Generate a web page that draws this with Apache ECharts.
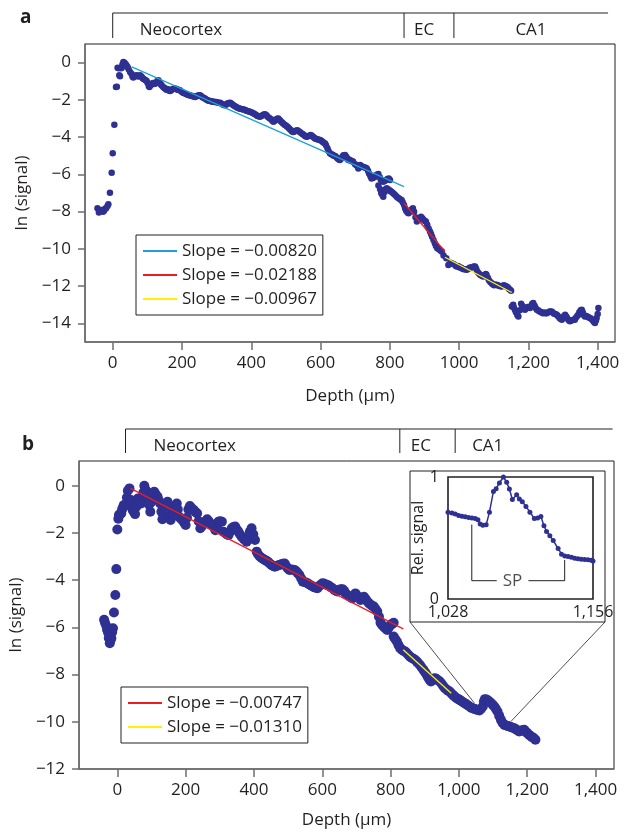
<!DOCTYPE html>
<html><head><meta charset="utf-8">
<script src="https://cdn.jsdelivr.net/npm/echarts@6/dist/echarts.min.js"></script>
<style>html,body{margin:0;padding:0;background:#fff}#c{width:629px;height:832px}</style>
</head><body><div id="c"></div><script>
// ---------- Panel a: depth (µm) vs ln(signal) ----------
const pointsA = [
[-44,-7.82],[-40,-8.05],[-36,-7.95],[-32,-7.91],[-28,-8.0],[-25,-7.95],[-22,-7.85],[-19,-7.82],[-15,-7.7],[-12.6,-7.61],
[-8,-6.98],[-3,-5.91],[0,-4.87],[4.7,-3.34],[9.5,-1.31],[12,-1.3],[14,-0.27],[17,-0.3],[19,-0.68],[21,-0.73],
[24,-0.3],[26,-0.27],[28,-0.1],[30.7,0.03],[34,0.0],[37.5,-0.09],[40,-0.15],[43,-0.23],[46,-0.35],[50,-0.5],
[54,-0.6],[57,-0.75],[59.5,-0.8],[63,-0.72],[66,-0.7],[69,-0.68],[73,-0.75],[76,-0.72],[79,-0.68],[83,-0.75],
[86,-0.82],[88,-0.86],[92,-0.9],[95,-0.95],[98,-0.98],[101,-1.1],[104,-1.25],[106,-1.31],[109,-1.22],[112.6,-1.16],
[116,-1.1],[119,-1.15],[122,-1.13],[126,-1.05],[129,-0.98],[132,-0.95],[135,-1.05],[138,-1.15],[141,-1.22],[145,-1.3],
[148,-1.35],[151,-1.39],[155,-1.45],[158,-1.42],[162,-1.5],[165.5,-1.52],[169,-1.48],[173,-1.42],[177,-1.4],[180,-1.39],
[184,-1.42],[187,-1.45],[190,-1.45],[194,-1.48],[198,-1.55],[202,-1.6],[205,-1.63],[209,-1.66],[213,-1.7],[217,-1.72],
[220,-1.75],[223,-1.75],[227,-1.78],[231,-1.8],[234,-1.82],[238,-1.84],[242,-1.8],[245,-1.78],[249,-1.75],[252,-1.75],
[256,-1.8],[259,-1.86],[263,-1.9],[266.5,-1.93],[270,-1.98],[274,-2.02],[277,-2.05],[281,-2.06],[285,-2.08],[288,-2.1],
[292,-2.1],[295,-2.11],[299,-2.12],[302,-2.14],[306,-2.15],[310,-2.16],[313,-2.2],[317,-2.24],[320,-2.27],[324,-2.29],
[328,-2.25],[331,-2.2],[335,-2.17],[339,-2.16],[342,-2.2],[346,-2.25],[349,-2.3],[353,-2.34],[357,-2.38],[360,-2.42],
[364,-2.45],[367.5,-2.47],[371,-2.49],[375,-2.5],[378,-2.52],[382,-2.55],[386,-2.58],[389,-2.6],[393,-2.62],[396,-2.64],
[400,-2.67],[404,-2.7],[407,-2.73],[411,-2.77],[415,-2.82],[418,-2.86],[422,-2.88],[425,-2.91],[429,-2.87],[433,-2.82],
[436,-2.79],[440,-2.77],[444,-2.83],[447,-2.9],[451,-2.96],[454,-3.0],[458,-3.05],[461,-3.12],[464,-3.18],[468,-3.12],
[471,-3.05],[475,-3.02],[478,-3.0],[482,-3.08],[485,-3.15],[489,-3.22],[492,-3.27],[496,-3.33],[500,-3.38],[503,-3.43],
[507,-3.48],[510,-3.55],[514,-3.62],[517,-3.68],[521,-3.72],[524,-3.7],[528,-3.66],[533,-3.63],[537,-3.68],[541,-3.74],
[545.6,-3.8],[549,-3.85],[553,-3.9],[556,-3.95],[560,-3.98],[564,-3.95],[567,-3.92],[571.5,-3.89],[575,-3.92],[578,-3.98],
[581,-4.02],[584,-4.07],[588,-4.1],[591,-4.12],[595,-4.14],[598.5,-4.16],[602,-4.2],[606,-4.25],[609,-4.3],[613,-4.34],
[616,-4.45],[620,-4.6],[623,-4.75],[627,-4.87],[631,-4.92],[635,-4.95],[638,-5.0],[642,-5.02],[646,-5.08],[649,-5.15],
[653,-5.2],[656,-5.23],[660,-5.15],[663,-5.05],[666,-4.97],[670.7,-4.96],[674,-5.05],[678,-5.15],[680,-5.23],[685,-5.23],
[688,-5.28],[692,-5.3],[694,-5.32],[699.6,-5.45],[703,-5.5],[706,-5.55],[709,-5.68],[714,-5.5],[718,-5.55],[722,-5.6],
[726,-5.62],[730,-5.65],[733.6,-5.68],[737,-5.8],[740,-5.95],[744,-6.1],[747,-6.22],[751,-6.2],[754,-6.16],[757,-6.13],
[761,-6.05],[764,-6.0],[767,-5.98],[771,-6.15],[774,-6.3],[778,-6.35],[781,-6.39],[785,-6.35],[789,-6.3],[793,-6.25],
[797,-6.22],[800.5,-6.3],[767,-6.6],[772,-6.8],[775,-7.0],[778,-7.1],[781,-7.2],[785,-6.95],[788,-6.8],[791,-6.75],
[795,-6.8],[799,-6.85],[802,-6.9],[805,-6.93],[809,-7.0],[812,-7.05],[816,-7.12],[820,-7.2],[823,-7.25],[827,-7.3],
[830,-7.35],[834,-7.38],[837,-7.5],[841,-7.65],[844,-7.82],[847,-7.95],[851,-8.05],[854,-8.09],[858,-8.0],[862,-7.9],
[866.6,-7.82],[870,-8.0],[874,-8.3],[878,-8.53],[882,-8.45],[886,-8.35],[890,-8.27],[894,-8.35],[898,-8.45],[901,-8.5],
[904,-8.53],[908,-8.7],[912,-8.9],[916,-9.07],[919,-9.2],[922,-9.35],[926,-9.52],[930,-9.7],[933,-9.85],[937,-9.96],
[941,-10.0],[944,-10.05],[947,-10.1],[950,-10.14],[955,-10.35],[963,-10.5],[969,-10.86],[975,-10.75],[980,-10.78],[985,-10.82],
[990,-10.9],[993,-10.95],[997,-10.92],[1000,-10.98],[1004,-11.0],[1007,-11.03],[1011,-11.08],[1015,-11.1],[1018,-11.1],[1022,-11.12],
[1026,-11.08],[1030,-11.02],[1034,-11.0],[1038,-10.98],[1042,-10.95],[1046,-10.95],[1049,-11.05],[1052,-11.2],[1056,-11.3],[1060,-11.38],
[1063,-11.42],[1067,-11.45],[1070,-11.48],[1074,-11.42],[1077,-11.35],[1079,-11.39],[1083,-11.55],[1086,-11.68],[1090,-11.78],[1094,-11.84],
[1097,-11.9],[1101,-11.95],[1104,-11.92],[1108,-11.93],[1111,-11.95],[1115,-11.98],[1119,-12.0],[1123,-12.02],[1126,-11.98],[1130,-11.95],
[1134,-12.0],[1137,-12.02],[1141,-12.08],[1144,-12.15],[1147,-12.2],[1150,-12.25],
[1152,-13.09],[1156,-13.0],[1158,-13.15],[1161,-13.27],[1164,-13.4],[1168,-13.55],[1171,-13.63],[1175,-13.3],[1179,-12.95],[1182,-13.05],
[1186,-13.2],[1190,-13.27],[1193,-13.2],[1197,-13.12],[1200,-13.15],[1204.5,-13.18],[1208,-13.05],[1211,-12.95],[1214,-12.91],[1218,-13.05],
[1221,-13.18],[1224.5,-13.27],[1228,-13.3],[1231,-13.35],[1235,-13.38],[1238,-13.41],[1242,-13.45],[1246,-13.42],[1249,-13.45],[1253,-13.45],
[1256,-13.42],[1260,-13.38],[1263,-13.36],[1267,-13.36],[1270,-13.42],[1274,-13.48],[1278,-13.5],[1282,-13.54],[1285,-13.6],[1289,-13.68],
[1292,-13.75],[1296.5,-13.8],[1300,-13.7],[1303,-13.6],[1306,-13.54],[1310,-13.65],[1313,-13.75],[1317,-13.85],[1320,-13.89],[1324,-13.85],
[1327,-13.82],[1331,-13.8],[1334,-13.8],[1337,-13.7],[1341,-13.6],[1344,-13.54],[1347,-13.4],[1351,-13.3],[1354,-13.27],[1357,-13.4],
[1360,-13.55],[1363,-13.63],[1367,-13.6],[1371,-13.65],[1374,-13.68],[1378,-13.71],[1381,-13.75],[1385,-13.82],[1388,-13.9],[1392,-13.98],
[1395,-13.85],[1397,-13.71],[1400,-13.5],[1402,-13.18]
];
const fitNamesA = ['Slope = \u22120.00820','Slope = \u22120.02188','Slope = \u22120.00967'];
const fitBlueA = [[55,-0.23],[841,-6.66]];
const fitRedA = [[841,-7.55],[959,-10.14]];
const fitYellowA = [[959,-10.45],[1152,-12.34]];

// ---------- Panel b ----------
const pointsB = [
[-38.7,-5.68],[-36,-5.8],[-32,-5.94],[-30,-6.1],[-27,-6.22],[-25,-6.45],[-22,-6.67],[-20,-6.55],[-17.5,-6.46],[-15,-6.2],
[-12.7,-6.04],[-9.8,-5.37],[-5.9,-4.63],[-3,-3.53],[0,-1.85],[3,-1.4],[4.7,-1.24],[8,-1.2],[11.5,-1.17],[14,-1.0],
[17,-0.9],[19,-0.82],[22,-0.85],[26,-0.75],[28,-0.5],[30.8,-0.21],[35.6,-0.11],[40,-0.6],[43,-0.9],[45,-1.03],
[48,-1.1],[52,-1.2],[55,-0.9],[58,-0.7],[60,-0.54],[64,-0.62],[69.5,-0.75],[73,-0.6],[76,-0.3],[79,0.0],
[82,-0.15],[84,-0.25],[87,-0.45],[89,-0.54],[93,-0.8],[96.5,-1.1],[99,-0.7],[100.5,-0.4],[104,-0.3],[108,-0.25],
[112,-0.35],[117.7,-0.46],[121,-0.6],[125.5,-0.75],[129,-1.1],[132,-1.42],[136,-1.3],[139,-1.15],[142,-1.03],[145,-0.8],
[147,-0.68],[151,-1.0],[156,-1.45],[160,-1.3],[163,-1.2],[166,-1.1],[170,-0.9],[174,-0.75],[177,-1.0],[180.6,-1.31],
[185,-1.38],[190,-1.45],[195,-1.55],[200,-1.66],[204,-1.35],[208,-1.0],[212.5,-0.86],[218,-0.95],[224,-1.03],[228,-1.1],
[233.6,-1.17],[238,-1.5],[243,-1.8],[248,-1.7],[253,-1.59],[258,-1.5],[263,-1.42],[268,-1.5],[272,-1.6],[277,-1.66],
[282,-1.75],[287,-1.88],[292,-1.7],[296.5,-1.52],[301,-1.5],[306,-1.52],[311,-1.95],[316,-2.0],[320,-2.05],[325.5,-2.09],
[330,-1.95],[335,-1.8],[340,-1.75],[345,-1.73],[350,-1.85],[354.5,-1.95],[359,-2.05],[364,-2.16],[370,-2.25],[374,-2.3],
[378.6,-2.37],[383,-2.2],[388,-1.95],[393,-1.8],[398,-2.05],[403,-2.3],[408,-2.79],[412,-2.9],[417,-3.0],[422,-3.05],
[427,-3.1],[431.8,-3.14],[436,-3.18],[441,-3.22],[446,-3.29],[451,-3.35],[456,-3.4],[461,-3.43],[466,-3.4],[470,-3.38],
[475,-3.36],[480,-3.33],[485,-3.3],[490,-3.29],[494,-3.4],[499,-3.5],[504,-3.57],[509,-3.55],[514,-3.56],[519,-3.57],
[524,-3.62],[528,-3.7],[533,-3.78],[538,-3.92],[543,-4.06],[547,-4.08],[552,-4.1],[557,-4.13],[562,-4.18],[567,-4.22],
[572,-4.27],[576,-4.3],[581,-4.32],[586,-4.34],[591,-4.25],[596,-4.18],[601,-4.13],[606,-4.15],[610,-4.18],[615,-4.2],
[620,-4.25],[625,-4.3],[630,-4.34],[635,-4.4],[640,-4.45],[644,-4.48],[649,-4.42],[654,-4.38],[659,-4.38],[664,-4.45],
[668,-4.55],[673,-4.63],[678,-4.68],[683,-4.72],[688,-4.77],[692,-4.68],[697,-4.56],[702,-4.65],[707,-4.75],[712,-4.84],
[717,-4.78],[722,-4.7],[727,-4.8],[732,-4.9],[736.6,-4.98],[741,-5.03],[746,-5.08],[751,-5.12],[756,-5.22],[761,-5.33],
[766,-5.55],[770.5,-5.8],[775,-5.9],[780,-5.97],[785,-6.05],[790,-6.11],[795,-6.0],[800,-5.9],[805,-5.85],[809,-5.8],
[809,-6.39],[814,-6.5],[818.5,-6.6],[823,-6.75],[828,-6.88],[833,-6.95],[838,-7.0],[843,-7.02],[848,-7.1],[853,-7.18],
[857,-7.24],[862,-7.3],[867,-7.33],[872,-7.38],[877,-7.45],[881,-7.52],[886,-7.59],[891,-7.7],[896,-7.8],[901,-7.9],
[905.5,-8.01],[910,-8.12],[914,-8.22],[918,-8.29],[922,-8.25],[926,-8.18],[930,-8.15],[935,-8.2],[940,-8.25],[944,-8.29],
[949,-8.38],[954,-8.48],[959,-8.58],[964,-8.63],[968,-8.68],[973,-8.72],[978,-8.8],[983,-8.87],[987,-8.93],[992,-8.98],
[997,-9.03],[1002,-9.07],[1007,-9.12],[1012,-9.17],[1017,-9.21],[1021,-9.26],[1026,-9.3],[1031,-9.35],[1036,-9.4],[1041,-9.43],
[1046,-9.46],[1050,-9.48],[1055,-9.5],[1060,-9.52],[1065,-9.45],[1070,-9.35],[1073,-9.15],[1076,-9.04],[1080,-9.05],[1085,-9.1],
[1089,-9.14],[1094,-9.2],[1099,-9.28],[1103.5,-9.35],[1108,-9.45],[1113,-9.56],[1118,-9.75],[1123,-9.92],[1128,-10.05],[1133,-10.13],
[1138,-10.16],[1143,-10.18],[1147,-10.2],[1152,-10.22],[1157,-10.25],[1162,-10.27],[1167,-10.32],[1172,-10.37],[1176.5,-10.41],[1181,-10.38],
[1186,-10.36],[1191,-10.34],[1196,-10.42],[1200,-10.48],[1205,-10.55],[1210,-10.6],[1214,-10.65],[1219,-10.69],[1224,-10.76]
];
const fitNamesB = ['Slope = \u22120.00747','Slope = \u22120.01310'];
const fitRedB = [[38.6,-0.11],[837,-6.06]];
const fitYellowB = [[837,-6.95],[977.6,-8.79]];

// ---------- Inset (panel b): relative signal 1,028–1,156 µm ----------
const insetPoints = [
[1028,0.712],[1031.5,0.704],[1034.4,0.696],[1037.4,0.685],[1040.3,0.679],[1043.2,0.674],[1046.2,0.668],[1049.1,0.663],
[1052,0.66],[1054.4,0.649],[1056.4,0.614],[1058.8,0.605],[1061.7,0.608],[1064.6,0.712],[1068.1,0.882],[1070.5,0.904],
[1073.4,0.951],[1076.9,1.0],[1079.8,0.956],[1082.2,0.901],[1084.8,0.816],[1088.6,0.855],[1091,0.819],[1093.6,0.797],
[1096.8,0.759],[1100.3,0.712],[1104.2,0.66],[1107.1,0.663],[1110,0.677],[1112.7,0.6],[1115,0.553],[1117.9,0.518],
[1120.9,0.479],[1125.2,0.414],[1128.2,0.367],[1131.1,0.353],[1134,0.348],[1137,0.342],[1139.9,0.334],[1142.8,0.329],
[1145.7,0.326],[1148.7,0.323],[1151.6,0.321],[1154.5,0.318],[1156,0.312]
];
const spBracketLeft = [[1049,0.61],[1049,0.15],[1071,0.15]];
const spBracketRight = [[1099,0.15],[1131,0.15],[1131,0.32]];
const spLabel = [[1085,0.15]];
const zoomEnds = [[1045,-9.2],[1152,-9.99]];

// ---------- Axes / ticks / regions ----------
const xTickValues = [0,200,400,600,800,1000,1200,1400];
const xTickLabelsA = ['0','200','400','600','800','1000','1,200','1,400'];
const xTickLabelsB = ['0','200','400','600','800','1,000','1,200','1,400'];
const yTickValuesA = [0,-2,-4,-6,-8,-10,-12,-14];
const yTickValuesB = [0,-2,-4,-6,-8,-10,-12];
const insetXTicks = [1028,1156];
const insetXLabels = ['1,028','1,156'];
const insetYTicks = [0,1];
const regionNames = ['Neocortex','EC','CA1'];
const regionBoundsA = [0,841,985,1430];
const regionBoundsB = [24,827,989,1450];

const FONT = '"Open Sans", "DejaVu Sans", sans-serif';
const NAVY = '#2e3192';
const TXT = '#231f20';
const AX = '#6d6e71';
const minus = v => String(v).replace('-', '\u2212');

function xAxisMain(grid, min, max, labels, nameGap) {
  return {
    gridIndex: grid, type: 'value', min, max,
    name: 'Depth (\u03bcm)', nameLocation: 'middle', nameGap,
    nameTextStyle: {fontFamily: FONT, fontSize: 17, color: TXT},
    axisLine: {onZero: false, lineStyle: {color: AX, width: 1.5}},
    axisTick: {customValues: xTickValues, length: 8, lineStyle: {color: AX, width: 1.5}},
    axisLabel: {customValues: xTickValues, margin: 13, fontFamily: FONT, fontSize: 17, color: TXT,
      formatter: v => labels[xTickValues.indexOf(v)]},
    splitLine: {show: false}
  };
}
function yAxisMain(grid, min, max, ticks, nameGap) {
  return {
    gridIndex: grid, type: 'value', min, max,
    name: 'ln (signal)', nameLocation: 'middle', nameGap, nameRotate: 90,
    nameTextStyle: {fontFamily: FONT, fontSize: 17, color: TXT},
    axisLine: {onZero: false, lineStyle: {color: AX, width: 1.5}},
    axisTick: {customValues: ticks, length: 7, lineStyle: {color: AX, width: 1.5}},
    axisLabel: {customValues: ticks, margin: 14, fontFamily: FONT, fontSize: 17, color: TXT, formatter: minus},
    splitLine: {show: false}
  };
}
const legendBase = {
  orient: 'vertical', icon: 'rect', itemWidth: 34, itemHeight: 2, itemGap: 6,
  padding: [7, 6, 7, 7], borderColor: TXT, borderWidth: 1, backgroundColor: '#fff',
  textStyle: {fontFamily: FONT, fontSize: 17, color: TXT, lineHeight: 18}, selectedMode: false
};
const fitLine = (name, data, color, xi, yi) => ({
  name, type: 'line', data, xAxisIndex: xi, yAxisIndex: yi, symbol: 'none', z: 4, silent: true,
  lineStyle: {color, width: 1.3}, itemStyle: {color}
});

const chart = echarts.init(document.getElementById('c'), null, {renderer: 'canvas'});
chart.setOption({
  animation: false,
  backgroundColor: '#fff',
  grid: [
    {left: 85, top: 44, width: 530, height: 298, show: true, borderColor: TXT, borderWidth: 1},
    {left: 74, top: 461, width: 540, height: 308, show: true, borderColor: TXT, borderWidth: 1},
    {left: 448, top: 477, width: 145, height: 122, show: true, borderColor: TXT, borderWidth: 1.6, zlevel: 1, z: 2}
  ],
  xAxis: [
    xAxisMain(0, -80, 1450, xTickLabelsA, 46),
    xAxisMain(1, -112, 1454, xTickLabelsB, 43),
    {gridIndex: 2, type: 'value', min: 1028, max: 1156, zlevel: 1, z: 3,
     axisLine: {show: false}, axisTick: {show: false}, splitLine: {show: false},
     axisLabel: {customValues: insetXTicks, margin: 5, fontFamily: FONT, fontSize: 16, color: TXT,
       formatter: v => insetXLabels[insetXTicks.indexOf(v)]}}
  ],
  yAxis: [
    yAxisMain(0, -15, 1, yTickValuesA, 45),
    yAxisMain(1, -12, 1.05, yTickValuesB, 34),
    {gridIndex: 2, type: 'value', min: 0, max: 1, zlevel: 1, z: 3,
     name: 'Rel. signal', nameLocation: 'middle', nameRotate: 90, nameGap: 20,
     nameTextStyle: {fontFamily: FONT, fontSize: 16, color: TXT},
     axisLine: {show: false}, axisTick: {show: false}, splitLine: {show: false},
     axisLabel: {customValues: insetYTicks, margin: 9, fontFamily: FONT, fontSize: 16, color: TXT}}
  ],
  legend: [
    Object.assign({}, legendBase, {data: fitNamesA, left: 136, top: 235}),
    Object.assign({}, legendBase, {data: fitNamesB, left: 121, top: 687})
  ],
  series: [
    {type: 'scatter', data: pointsA, xAxisIndex: 0, yAxisIndex: 0, symbolSize: 6.5, itemStyle: {color: NAVY, opacity: 1}, z: 2, silent: true},
    fitLine(fitNamesA[0], fitBlueA, '#1e9fd6', 0, 0),
    fitLine(fitNamesA[1], fitRedA, '#ed1c24', 0, 0),
    fitLine(fitNamesA[2], fitYellowA, '#fff200', 0, 0),
    {type: 'scatter', data: pointsB, xAxisIndex: 1, yAxisIndex: 1, symbolSize: 10, itemStyle: {color: NAVY, opacity: 1}, z: 2, silent: true},
    fitLine(fitNamesB[0], fitRedB, '#ed1c24', 1, 1),
    fitLine(fitNamesB[1], fitYellowB, '#fff200', 1, 1),
    {type: 'line', data: insetPoints, xAxisIndex: 2, yAxisIndex: 2, zlevel: 1, z: 6, symbol: 'circle', symbolSize: 5,
     showAllSymbol: true, lineStyle: {color: NAVY, width: 1.5}, itemStyle: {color: NAVY}, silent: true},
    {type: 'line', data: spBracketLeft, xAxisIndex: 2, yAxisIndex: 2, zlevel: 1, z: 5, symbol: 'none',
     lineStyle: {color: TXT, width: 1}, silent: true},
    {type: 'line', data: spBracketRight, xAxisIndex: 2, yAxisIndex: 2, zlevel: 1, z: 5, symbol: 'none',
     lineStyle: {color: TXT, width: 1}, silent: true},
    {type: 'scatter', data: spLabel, xAxisIndex: 2, yAxisIndex: 2, zlevel: 1, z: 5, symbolSize: 0, silent: true,
     label: {show: true, position: 'inside', formatter: 'SP', fontFamily: FONT, fontSize: 17, color: TXT}}
  ]
});

// ---- annotations: region brackets, panel letters, inset frame and zoom lines ----
function px(axisIndex, d) { return chart.convertToPixel({xAxisIndex: axisIndex}, d); }
const g = [];
function regionBracket(ai, bounds, yTop, yBot, textY, offs) {
  const xs = bounds.map(d => px(ai, d));
  g.push({type: 'line', shape: {x1: xs[0], y1: yTop, x2: xs[3], y2: yTop}, style: {stroke: TXT, lineWidth: 1}});
  for (let i = 0; i < 3; i++) {
    g.push({type: 'line', shape: {x1: xs[i], y1: yTop, x2: xs[i], y2: yBot}, style: {stroke: TXT, lineWidth: 1}});
  }
  regionNames.forEach((n, i) => {
    const o = offs[i];
    const x = o === null ? (xs[i] + xs[i + 1]) / 2 : xs[i] + o;
    g.push({type: 'text', x, y: textY, style: {text: n, fill: TXT, font: '17px ' + FONT,
      textAlign: o === null ? 'center' : 'left', textVerticalAlign: 'middle'}});
  });
}
regionBracket(0, regionBoundsA, 13, 38, 30, [27, 10, null]);
regionBracket(1, regionBoundsB, 429, 453, 446, [28, 11, 17]);
g.push({type: 'text', x: 20, y: 18, style: {text: 'a', fill: TXT, font: 'bold 19px ' + FONT, textVerticalAlign: 'middle'}});
g.push({type: 'text', x: 22, y: 445, style: {text: 'b', fill: TXT, font: 'bold 19px ' + FONT, textVerticalAlign: 'middle'}});
// inset outer frame
const frame = {x: 410, y: 471, w: 195, h: 151};
g.push({type: 'rect', zlevel: 1, z: 1, shape: {x: frame.x, y: frame.y, width: frame.w, height: frame.h},
  style: {fill: '#fff', stroke: TXT, lineWidth: 1}});
const pL = chart.convertToPixel({gridIndex: 1}, zoomEnds[0]);
const pR = chart.convertToPixel({gridIndex: 1}, zoomEnds[1]);
g.push({type: 'line', z: 10, shape: {x1: frame.x, y1: frame.y + frame.h, x2: pL[0], y2: pL[1]}, style: {stroke: TXT, lineWidth: 0.8}});
g.push({type: 'line', z: 10, shape: {x1: frame.x + frame.w, y1: frame.y + frame.h, x2: pR[0], y2: pR[1]}, style: {stroke: TXT, lineWidth: 0.8}});
chart.setOption({graphic: {elements: g}});
</script></body></html>
